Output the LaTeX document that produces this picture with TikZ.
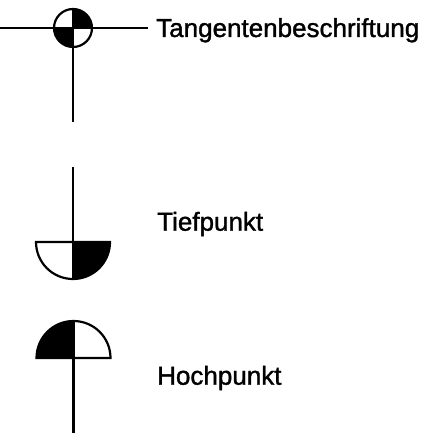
\documentclass[tikz,border=0pt]{standalone}
\usepackage{fontspec}
\setmainfont{Liberation Sans}
\newfontfamily\labfont[FakeBold=1.3]{Liberation Sans}
\tikzset{
  x=1pt,y=-1pt,
  sym/.style={line width=2.2pt,draw=black},
  lab/.style={anchor=base west,inner sep=0pt,font=\labfont\fontsize{26}{30}\selectfont,text=black},
}
\begin{document}
\begin{tikzpicture}
\useasboundingbox (0,0) rectangle (443,438);
% tangent symbol
\coordinate (tc) at (73,28);
\coordinate (tl) at (0,28);
\coordinate (tr) at (148,28);
\coordinate (tb) at (73,122);
\fill[black] (tc) -- (73,9) arc[start angle=-90,end angle=0,radius=19] -- cycle;
\fill[black] (tc) -- (73,47) arc[start angle=90,end angle=180,radius=19] -- cycle;
\draw[sym] (tc) circle[radius=19];
\draw[sym] (tl) -- (tr);
\draw[sym] (73,9) -- (tb);
% low point
\coordinate (lt) at (73,167);
\coordinate (lc) at (73,242);
\fill[black] (lc) -- (110,242) arc[start angle=0,end angle=90,radius=37] -- cycle;
\draw[sym] (36,242) -- (110,242) arc[start angle=0,end angle=180,radius=37] -- cycle;
\draw[sym] (lt) -- (lc) -- (73,279);
% high point
\coordinate (hc) at (73.5,358);
\coordinate (hb) at (73.5,433);
\fill[black] (hc) -- (36.5,358) arc[start angle=180,end angle=270,radius=37] -- cycle;
\draw[sym] (36.5,358) -- (110.5,358) arc[start angle=0,end angle=-180,radius=37] -- cycle;
\draw[sym] (73.5,321) -- (hb);
% labels
\node[lab] (tang) at (156,37) {Tangentenbeschriftung};
\node[lab] (tief) at (157,230.7) {Tiefpunkt};
\node[lab] (hoch) at (157,384.7) {Hochpunkt};
\end{tikzpicture}
\end{document}
